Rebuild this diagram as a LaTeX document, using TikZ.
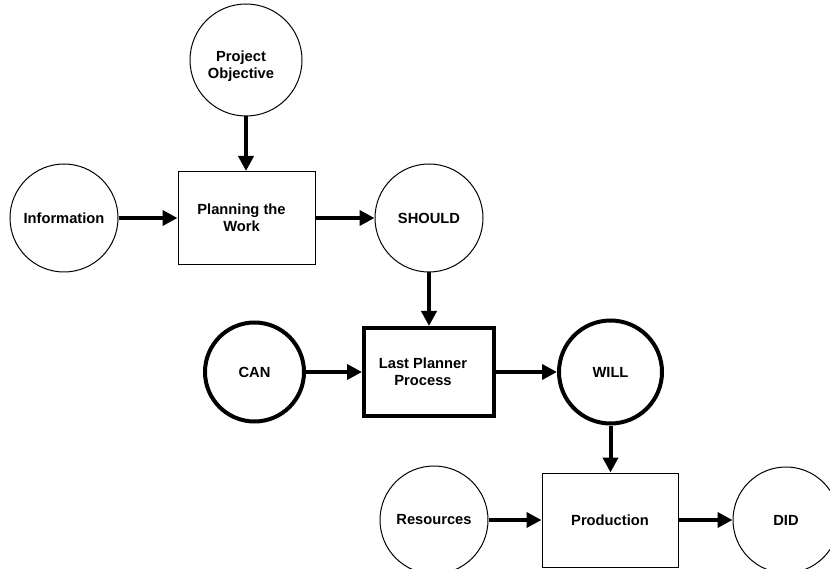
\documentclass[tikz,border=0pt]{standalone}
\usepackage{fontspec}
\setmainfont{Liberation Sans}
\usetikzlibrary{arrows.meta}

\tikzset{
  lbl/.style={font=\bfseries\fontsize{14.7}{17}\selectfont, align=center},
  ring/.style={circle, draw, line width=1pt, inner sep=0pt, lbl},
  thickring/.style={circle, draw, line width=4pt, inner sep=0pt, lbl},
  box/.style={rectangle, draw, line width=1pt, inner sep=0pt, lbl},
  thickbox/.style={rectangle, draw, line width=4pt, inner sep=0pt, lbl},
  flow/.style={line width=4pt, -{Triangle[length=15pt, width=15pt]}},
  boxtext/.style={lbl, inner sep=0pt},
}

\begin{document}
\begin{tikzpicture}[x=1pt, y=-1pt]
  \useasboundingbox (0,0) rectangle (830,569);

  % planning level
  \node[ring, minimum size=112pt, label={[boxtext, xshift=-5pt, yshift=-6pt]center:{Project\\Objective}}] (po) at (246,60) {};
  \node[ring, minimum size=108pt] (info) at (64,218) {Information};
  \node[box, minimum width=137pt, minimum height=93pt,
        label={[boxtext, xshift=-5pt]center:{Planning the\\Work}}] (plan) at (246.5,218) {};
  \node[ring, minimum size=108pt] (should) at (429,218) {SHOULD};

  % last planner level
  \node[thickring, minimum size=99pt] (can) at (254.5,372) {CAN};
  \node[thickbox, minimum width=130pt, minimum height=88pt,
        label={[boxtext, xshift=-6pt]center:{Last Planner\\Process}}] (lpp) at (429,372) {};
  \node[thickring, minimum size=103pt] (will) at (610.5,372) {WILL};

  % production level
  \node[ring, minimum size=108pt] (res) at (434,520) {Resources};
  \node[box, minimum width=136pt, minimum height=94pt] (prod) at (610,520) {Production};
  \node[ring, minimum size=106pt] (did) at (786,520) {DID};

  % connectors
  \draw[flow] (po.south) -- (po.south |- plan.north);
  \draw[flow] (info) -- (plan);
  \draw[flow] (plan) -- (should);
  \draw[flow] (should.south) -- (should.south |- lpp.north);
  \draw[flow] (can) -- (lpp);
  \draw[flow] (lpp) -- (will);
  \draw[flow] (will.south) -- (will.south |- prod.north);
  \draw[flow] (res) -- (prod);
  \draw[flow] (prod) -- (did);
\end{tikzpicture}
\end{document}
